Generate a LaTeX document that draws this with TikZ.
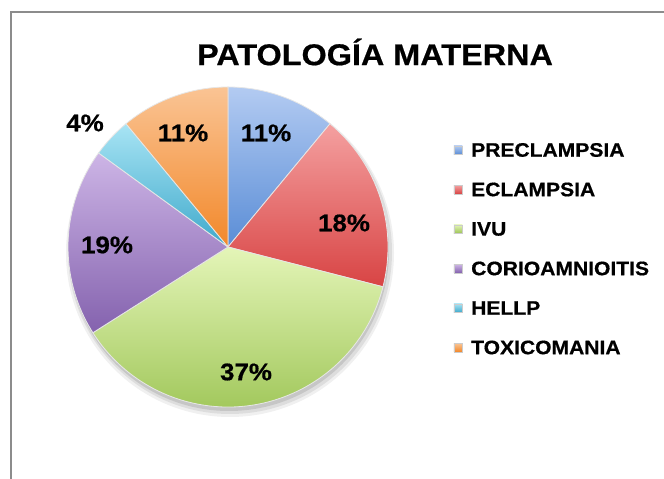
\documentclass[tikz,border=0pt]{standalone}
\usepackage{fontspec}
\setmainfont{Liberation Sans}[FakeStretch=1.08, BoldFeatures={FakeBold=0.6}]
\usetikzlibrary{calc}
\definecolor{framecol}{HTML}{8C8C8C}
\definecolor{bluetop}{HTML}{B3CBF2}\definecolor{bluebot}{HTML}{5A8DD6}
\definecolor{redtop}{HTML}{F4A0A0}\definecolor{redbot}{HTML}{D84444}
\definecolor{greentop}{HTML}{E4F5B8}\definecolor{greenbot}{HTML}{9CC454}
\definecolor{purpletop}{HTML}{CDB5E6}\definecolor{purplebot}{HTML}{8462AE}
\definecolor{cyantop}{HTML}{A8E4F4}\definecolor{cyanbot}{HTML}{3FA9CB}
\definecolor{orangetop}{HTML}{FAC494}\definecolor{orangebot}{HTML}{F2882A}
\definecolor{sliceedge}{HTML}{E6E6E6}
\tikzset{
  slicestyle/.style={draw=sliceedge, line width=0.8pt, line join=round},
  pctlabel/.style={font=\fontsize{24}{28}\selectfont\bfseries, inner sep=0pt},
  legtext/.style={font=\fontsize{19.5}{23}\selectfont\bfseries, anchor=west, inner sep=0pt},
  legbox/.style={minimum size=8.5pt, inner sep=0pt, draw=white!60!gray, line width=0.3pt},
}
\begin{document}
\begin{tikzpicture}[x=1pt,y=1pt]
\useasboundingbox (0,0) rectangle (664,479);
% frame
\draw[framecol, line width=1.5pt] (11,0) -- (11,467) -- (664,467);
% title
\node[font=\fontsize{30}{35}\selectfont\bfseries, inner sep=0pt] (title) at (375,427) {PATOLOGÍA MATERNA};
% pie
\coordinate (C) at (228,232);
\def\R{160}
% shadow
\fill[black, opacity=0.06] ($(C)+(2,-6)$) circle (164);
\fill[black, opacity=0.08] ($(C)+(2,-5)$) circle (162);
\fill[black, opacity=0.10] ($(C)+(1,-4)$) circle (160);
\fill[white] (C) circle (\R);
% slices (clockwise from 12 o'clock)
\shade[top color=bluetop, bottom color=bluebot, slicestyle]
  (C) -- ++(90:\R) arc[start angle=90, end angle=50.4, radius=\R] -- cycle;
\shade[top color=redtop, bottom color=redbot, slicestyle]
  (C) -- ++(50.4:\R) arc[start angle=50.4, end angle=-14.4, radius=\R] -- cycle;
\shade[top color=greentop, bottom color=greenbot, slicestyle]
  (C) -- ++(-14.4:\R) arc[start angle=-14.4, end angle=-147.6, radius=\R] -- cycle;
\shade[top color=purpletop, bottom color=purplebot, slicestyle]
  (C) -- ++(-147.6:\R) arc[start angle=-147.6, end angle=-216, radius=\R] -- cycle;
\shade[top color=cyantop, bottom color=cyanbot, slicestyle]
  (C) -- ++(144:\R) arc[start angle=144, end angle=129.6, radius=\R] -- cycle;
\shade[top color=orangetop, bottom color=orangebot, slicestyle]
  (C) -- ++(129.6:\R) arc[start angle=129.6, end angle=90, radius=\R] -- cycle;
% percentage labels
\node[pctlabel] (pPre) at (266,346) {11\%};
\node[pctlabel] (pEcl) at (344,256) {18\%};
\node[pctlabel] (pIvu) at (246,107) {37\%};
\node[pctlabel] (pCor) at (107,234) {19\%};
\node[pctlabel] (pHel) at (85,356) {4\%};
\node[pctlabel] (pTox) at (183,346) {11\%};
% legend
\node[legbox, top color=bluetop, bottom color=bluebot] (lbPre) at (458,329) {};
\node[legtext] (ltPre) at (471,329) {PRECLAMPSIA};
\node[legbox, top color=redtop, bottom color=redbot] (lbEcl) at (458,289.5) {};
\node[legtext] (ltEcl) at (471,289.5) {ECLAMPSIA};
\node[legbox, top color=greentop, bottom color=greenbot] (lbIvu) at (458,250) {};
\node[legtext] (ltIvu) at (471,250) {IVU};
\node[legbox, top color=purpletop, bottom color=purplebot] (lbCor) at (458,210.5) {};
\node[legtext] (ltCor) at (471,210.5) {CORIOAMNIOITIS};
\node[legbox, top color=cyantop, bottom color=cyanbot] (lbHel) at (458,171) {};
\node[legtext] (ltHel) at (471,171) {HELLP};
\node[legbox, top color=orangetop, bottom color=orangebot] (lbTox) at (458,131.5) {};
\node[legtext] (ltTox) at (471,131.5) {TOXICOMANIA};
\end{tikzpicture}
\end{document}
